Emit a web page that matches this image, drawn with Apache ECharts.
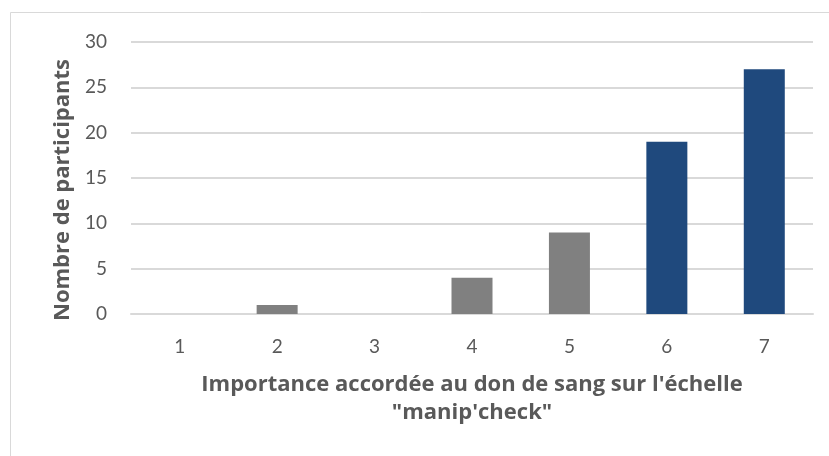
<!DOCTYPE html>
<html>
<head>
<meta charset="utf-8">
<script src="https://cdn.jsdelivr.net/npm/echarts@6/dist/echarts.min.js"></script>
<style>
html,body{margin:0;padding:0;background:#fff;}
#chart{width:829px;height:456px;}
</style>
</head>
<body>
<div id="chart"></div>
<script>
const categories = ['1', '2', '3', '4', '5', '6', '7'];
const participants = [0, 1, 0, 4, 9, 19, 27];
const barColors = ['#808080', '#808080', '#808080', '#808080', '#808080', '#1F497D', '#1F497D'];
const yTicks = { min: 0, max: 30, interval: 5 };
const xTitle = "Importance accordée au don de sang sur l'échelle\n\"manip'check\"";
const yTitle = 'Nombre de participants';

const font = 'Lato';
const titleFont = 'Open Sans';
const chart = echarts.init(document.getElementById('chart'), null, { renderer: 'canvas' });
chart.setOption({
  backgroundColor: '#ffffff',
  animation: false,
  graphic: [{
    type: 'rect',
    shape: { x: 10.5, y: 12.5, width: 840, height: 460 },
    style: { fill: 'none', stroke: '#d9d9d9', lineWidth: 1 },
    silent: true
  }],
  grid: { left: 131, right: 16, top: 42, bottom: 142, containLabel: false },
  xAxis: {
    type: 'category',
    data: categories,
    axisLine: { show: true, lineStyle: { color: '#d9d9d9', width: 2 } },
    axisTick: { show: false },
    axisLabel: { color: '#595959', fontFamily: font, fontSize: 19, lineHeight: 19, margin: 23 },
    name: xTitle,
    nameLocation: 'middle',
    nameGap: 57,
    nameTextStyle: { color: '#595959', fontFamily: titleFont, fontWeight: 'bold', fontSize: 22, lineHeight: 28 }
  },
  yAxis: {
    type: 'value',
    min: yTicks.min, max: yTicks.max, interval: yTicks.interval,
    axisLine: { show: false },
    axisTick: { show: false },
    splitLine: { lineStyle: { color: '#d9d9d9', width: 2 } },
    axisLabel: { color: '#595959', fontFamily: font, fontSize: 19, margin: 24 },
    name: yTitle,
    nameLocation: 'middle',
    nameGap: 57,
    nameTextStyle: { color: '#595959', fontFamily: titleFont, fontWeight: 'bold', fontSize: 22, padding: [0, 24, 0, 0] }
  },
  series: [{
    type: 'bar',
    data: participants.map((v, i) => ({ value: v, itemStyle: { color: barColors[i] } })),
    barWidth: 41
  }]
});
</script>
</body>
</html>
